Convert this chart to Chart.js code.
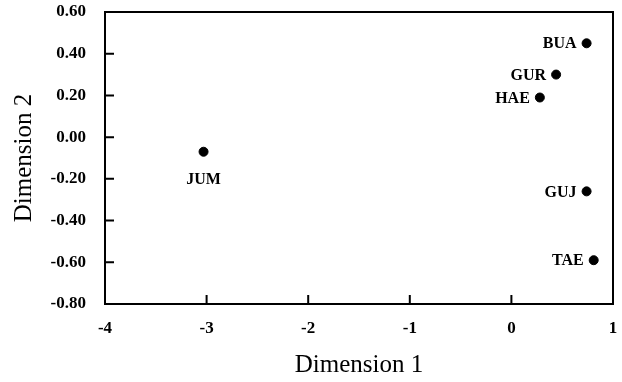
<!DOCTYPE html>
<html>
<head>
<meta charset="utf-8">
<script src="https://cdn.jsdelivr.net/npm/chart.js@4"></script>
<style>
  html, body { margin: 0; padding: 0; background: #fff; }
  #wrap { width: 622px; height: 382px; }
</style>
</head>
<body>
<div id="wrap"><canvas id="myChart" width="622" height="382"></canvas></div>
<script>
const labels = ['BUA', 'GUR', 'HAE', 'JUM', 'GUJ', 'TAE'];
const dim1 = [0.74, 0.44, 0.28, -3.03, 0.74, 0.81];
const dim2 = [0.45, 0.30, 0.19, -0.07, -0.26, -0.59];
const xTicks = [-4, -3, -2, -1, 0, 1];
const yTicks = [0.6, 0.4, 0.2, 0, -0.2, -0.4, -0.6, -0.8];

const serif = "'Liberation Serif', 'Times New Roman', serif";

// box around the plot, inward tick marks and point labels
const frame = {
  id: 'frame',
  afterDraw(chart) {
    const { ctx, chartArea: a, scales: { x, y } } = chart;
    ctx.save();
    ctx.strokeStyle = '#000';
    ctx.lineWidth = 2;
    ctx.strokeRect(a.left, a.top, a.right - a.left, a.bottom - a.top);
    ctx.beginPath();
    xTicks.forEach(v => {
      const px = x.getPixelForValue(v);
      ctx.moveTo(px, a.bottom);
      ctx.lineTo(px, a.bottom - 9);
    });
    yTicks.forEach(v => {
      const py = y.getPixelForValue(v);
      ctx.moveTo(a.left, py);
      ctx.lineTo(a.left + 9, py);
    });
    ctx.stroke();

    ctx.fillStyle = '#000';
    ctx.font = 'bold 16px ' + serif;
    ctx.textBaseline = 'middle';
    const meta = chart.getDatasetMeta(0);
    meta.data.forEach((pt, i) => {
      if (labels[i] === 'JUM') {
        ctx.textAlign = 'center';
        ctx.fillText(labels[i], pt.x, pt.y + 28);
      } else {
        ctx.textAlign = 'right';
        ctx.fillText(labels[i], pt.x - 10, pt.y + 1);
      }
    });
    ctx.restore();
  }
};

new Chart(document.getElementById('myChart').getContext('2d'), {
  type: 'scatter',
  data: {
    datasets: [{
      data: dim1.map((v, i) => ({ x: v, y: dim2[i] })),
      backgroundColor: '#000',
      borderColor: '#000',
      pointRadius: 4.5,
      pointHoverRadius: 4.5
    }]
  },
  options: {
    responsive: false,
    animation: false,
    layout: { padding: { top: 12, right: 9, left: 0, bottom: 0 } },
    plugins: { legend: { display: false }, tooltip: { enabled: false } },
    scales: {
      x: {
        type: 'linear',
        min: -4,
        max: 1,
        afterBuildTicks: s => { s.ticks = xTicks.map(v => ({ value: v })); },
        afterFit: s => { s.height = 78; s.paddingLeft = 0; s.paddingRight = 0; },
        grid: { display: false, drawTicks: false },
        border: { display: false },
        ticks: {
          color: '#000',
          padding: 14,
          maxRotation: 0,
          font: { family: serif, size: 17, weight: 'bold' },
          callback: v => String(v)
        },
        title: {
          display: true,
          text: 'Dimension 1',
          color: '#000',
          font: { family: serif, size: 25 },
          padding: { top: 0, bottom: 2 }
        }
      },
      y: {
        type: 'linear',
        min: -0.8,
        max: 0.6,
        afterBuildTicks: s => { s.ticks = yTicks.map(v => ({ value: v })); },
        afterFit: s => { s.width = 105; s.paddingTop = 0; s.paddingBottom = 0; },
        grid: { display: false, drawTicks: false },
        border: { display: false },
        ticks: {
          color: '#000',
          padding: 19,
          font: { family: serif, size: 17, weight: 'bold' },
          callback: v => v.toFixed(2)
        },
        title: {
          display: true,
          text: 'Dimension 2',
          color: '#000',
          font: { family: serif, size: 25 },
          padding: { top: 9, bottom: 0 }
        }
      }
    }
  },
  plugins: [frame]
});
</script>
</body>
</html>
